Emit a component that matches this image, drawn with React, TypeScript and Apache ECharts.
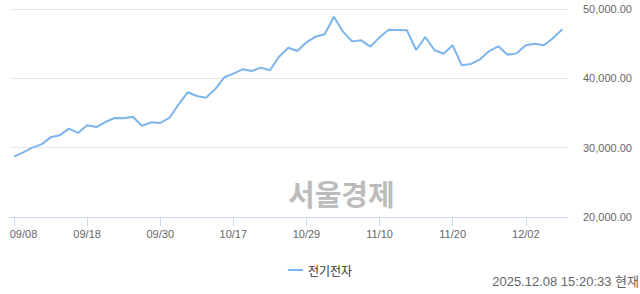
import React, { useEffect, useRef } from "react";
import * as echarts from "echarts";

const dates: string[] = [
  "09/08", "09/09", "09/10", "09/11", "09/12", "09/15", "09/16", "09/17", "09/18", "09/19",
  "09/22", "09/23", "09/24", "09/25", "09/26", "09/29", "09/30", "10/01", "10/02", "10/10",
  "10/13", "10/14", "10/15", "10/16", "10/17", "10/20", "10/21", "10/22", "10/23", "10/24",
  "10/27", "10/28", "10/29", "10/30", "10/31", "11/03", "11/04", "11/05", "11/06", "11/07",
  "11/10", "11/11", "11/12", "11/13", "11/14", "11/17", "11/18", "11/19", "11/20", "11/21",
  "11/24", "11/25", "11/26", "11/27", "11/28", "12/01", "12/02", "12/03", "12/04", "12/05",
  "12/08",
];

const values: number[] = [
  28700, 29330, 30000, 30480, 31490, 31780, 32740, 32120, 33220, 32980,
  33700, 34280, 34230, 34470, 33170, 33650, 33560, 34280, 36200, 37990,
  37450, 37210, 38410, 40150, 40670, 41300, 41060, 41540, 41160, 43120,
  44420, 43940, 45190, 46010, 46350, 48890, 46730, 45330, 45480, 44570,
  45910, 47020, 46970, 46920, 44090, 45960, 44090, 43550, 44760, 41880,
  42070, 42740, 43940, 44620, 43410, 43600, 44760, 45000, 44760, 45820,
  47070,
];

const labelIndices: number[] = [0, 8, 16, 24, 32, 40, 48, 56];
const yTicks: number[] = [20000, 30000, 40000, 50000];
const seriesName = "전기전자";
const timestamp = "2025.12.08 15:20:33 현재";
const watermark = "서울경제";

export default function App() {
  const ref = useRef<HTMLDivElement>(null);
  useEffect(() => {
    if (!ref.current) return;
    const chart = echarts.init(ref.current, undefined, { renderer: "svg" });
    const fmt = (v: number) =>
      v.toLocaleString("en-US", { minimumFractionDigits: 2, maximumFractionDigits: 2 });
    chart.setOption({
      animation: false,
      grid: { left: 10, right: 72, top: 9, bottom: 77, containLabel: false },
      xAxis: {
        type: "value",
        min: -0.44,
        max: 60.62,
        splitLine: { show: false },
        axisLine: { show: true, lineStyle: { color: "#ccd6eb", width: 1 } },
        axisTick: {
          show: true,
          length: 9,
          lineStyle: { color: "#ccd6eb" },
          customValues: labelIndices,
        },
        axisLabel: {
          color: "#666666",
          fontSize: 11,
          fontFamily: "Liberation Sans, Arial, sans-serif",
          margin: 11,
          customValues: labelIndices,
          formatter: (v: number) => {
            const i = Math.round(v);
            const d = dates[i] ?? "";
            return i === 0 ? `{first|${d}}` : d;
          },
          rich: {
            first: {
              color: "#666666",
              fontSize: 11,
              fontFamily: "Liberation Sans, Arial, sans-serif",
              padding: [0, 0, 0, 19],
            },
          },
        },
      },
      yAxis: {
        type: "value",
        position: "right",
        min: yTicks[0],
        max: yTicks[yTicks.length - 1],
        interval: 10000,
        axisLine: { show: false },
        axisTick: { show: false },
        splitLine: { show: true, lineStyle: { color: "#e6e6e6", width: 1 } },
        axisLabel: {
          color: "#666666",
          fontSize: 11,
          fontFamily: "Liberation Sans, Arial, sans-serif",
          margin: 15,
          formatter: (v: number) => fmt(v),
        },
      },
      legend: {
        show: true,
        left: "center",
        top: 259,
        itemWidth: 15,
        itemHeight: 14,
        itemGap: 10,
        textStyle: {
          color: "#333333",
          fontSize: 12,
          fontFamily: "Noto Sans CJK KR, sans-serif",
          padding: [0, 0, 0, 0],
        },
        data: [{ name: seriesName, icon: "path://M0,6 L15,6 L15,8 L0,8 Z" }],
      },
      graphic: [
        {
          type: "text",
          left: 288,
          top: 178,
          z: 0,
          silent: true,
          style: {
            text: watermark,
            font: "bold 29px 'Noto Sans CJK KR', sans-serif",
            fill: "#bcbcbc",
          },
        },
        {
          type: "text",
          right: 1,
          top: 275,
          style: {
            text: timestamp,
            font: "13px 'Liberation Sans', 'Noto Sans CJK KR', sans-serif",
            fill: "#666666",
          },
        },
      ],
      series: [
        {
          name: seriesName,
          type: "line",
          data: values.map((v, i) => [i, v]),
          symbol: "none",
          showSymbol: false,
          lineStyle: { color: "#7cb5ec", width: 2 },
          itemStyle: { color: "#7cb5ec" },
          z: 3,
        },
      ],
    });
    return () => chart.dispose();
  }, []);
  return (
    <div
      ref={ref}
      style={{ position: "fixed", left: 0, top: 0, width: 640, height: 294, background: "#fff" }}
    />
  );
}
